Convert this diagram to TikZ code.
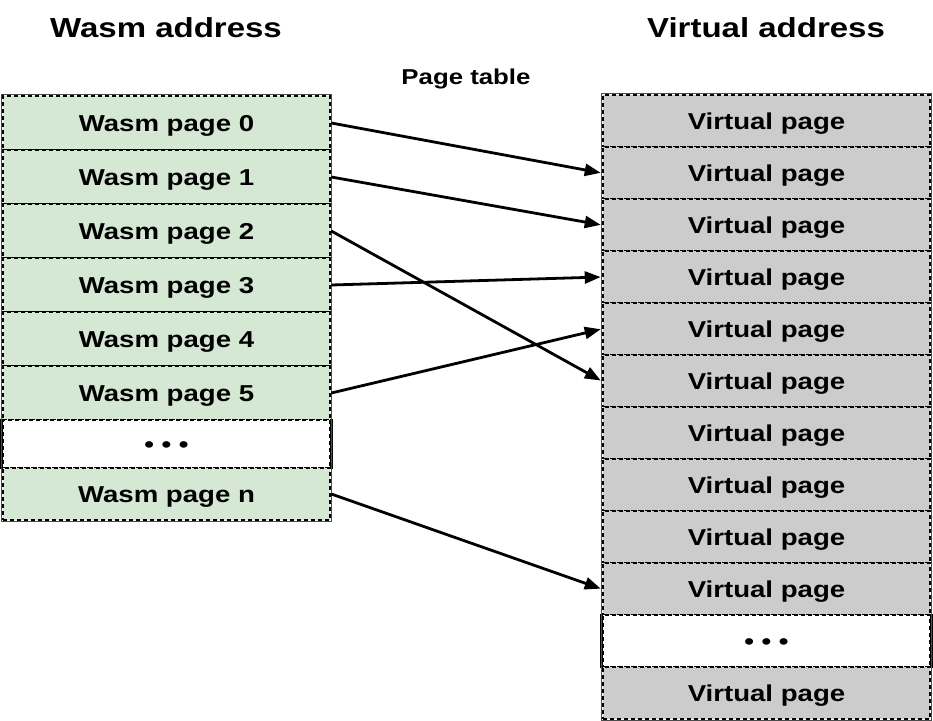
\documentclass[tikz,border=0pt]{standalone}
\usepackage{fontspec}
\setmainfont{Liberation Sans}[FakeStretch=1.2]
\usetikzlibrary{arrows.meta}
\definecolor{wgreen}{HTML}{D5E8D4}
\definecolor{vgrey}{HTML}{CCCCCC}
\begin{document}
\begin{tikzpicture}[x=1pt,y=-1pt,
  cellbase/.style={draw=black, line width=2.6pt, dash pattern=on 4pt off 3pt,
    minimum width=327pt, inner sep=0pt, font=\fontsize{23}{23}\selectfont\bfseries,
    text height=16.5pt, text depth=0pt},
  lcell/.style={cellbase, fill=wgreen, minimum height=54pt},
  lcelln/.style={cellbase, fill=wgreen, minimum height=52pt},
  ldots/.style={cellbase, fill=white, minimum height=48pt},
  vcell/.style={cellbase, fill=vgrey, minimum height=52pt},
  vdots/.style={cellbase, fill=white, minimum height=52pt},
  titletext/.style={font=\fontsize{27.5}{28}\selectfont\bfseries, inner sep=0pt, anchor=base},
  link/.style={line width=2.8pt, -{Triangle[length=16pt,width=12pt]}, shorten >=1pt}
]
\useasboundingbox (0,0) rectangle (933,720);
\node[titletext] (t1) at (166,37) {Wasm address};
\node[titletext] (t2) at (766,37) {Virtual address};
\node[font=\fontsize{21.5}{22}\selectfont\bfseries, inner sep=0pt, anchor=base] (t3) at (466,84) {Page table};

% left column
\foreach \i in {0,...,5} {
  \node[lcell] (l\i) at (166.5,{123+54*\i}) {Wasm page \i};
}
\node[ldots] (ld) at (166.5,444) {• • •};
\node[lcelln] (ln) at (166.5,494) {Wasm page n};
\draw[line width=2.6pt] (ld.north west) -- (ld.south west);
\draw[line width=2.6pt] (ld.north east) -- (ld.south east);
\draw[black!70, line width=0.8pt] (l0.north west) rectangle (ln.south east);

% right column
\foreach \j in {0,...,9} {
  \node[vcell] (r\j) at (766.5,{121+52*\j}) {Virtual page};
}
\node[vdots] (rd) at (766.5,641) {• • •};
\node[vcell] (rl) at (766.5,693) {Virtual page};
\draw[line width=2.6pt] (rd.north west) -- (rd.south west);
\draw[line width=2.6pt] (rd.north east) -- (rd.south east);
\draw[black!70, line width=0.8pt] (r0.north west) rectangle (rl.south east);

% page table mappings
\draw[link] (l0.east) -- (r1.west);
\draw[link] (l1.east) -- (r2.west);
\draw[link] (l2.east) -- (r5.west);
\draw[link] (l3.east) -- (r3.west);
\draw[link] (l5.east) -- (r4.west);
\draw[link] (ln.east) -- (r9.west);
\end{tikzpicture}
\end{document}
